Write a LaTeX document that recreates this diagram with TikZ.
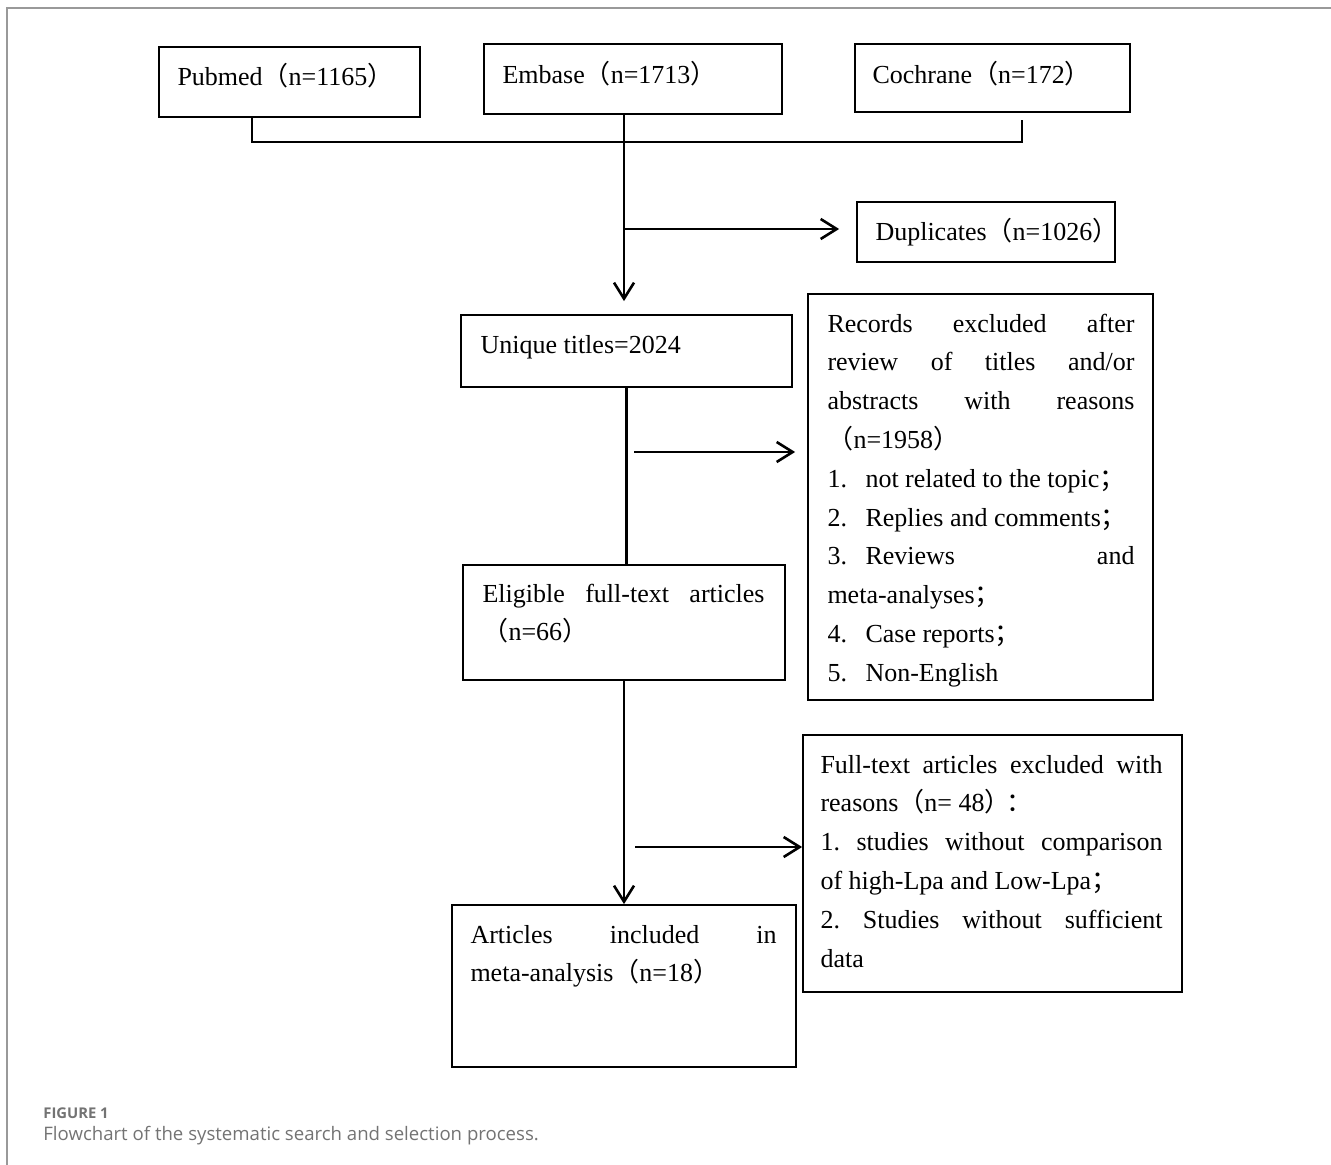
\documentclass[tikz,border=0pt]{standalone}
\usepackage{fontspec}
\setmainfont{Liberation Serif}
\newfontfamily\cjk[Script=CJK,Language=Chinese Simplified]{Noto Sans CJK SC}
\newfontfamily\capfont{Open Sans}
\usetikzlibrary{arrows.meta,fit,positioning}

% full-width punctuation
\newcommand{\fwl}{{\cjk （}}
\newcommand{\fwr}{{\cjk ）}}
\newcommand{\fwsemi}{{\cjk ；}}
\newcommand{\fwcolon}{\kern-0.15em{\cjk ：}}
\newcommand{\itemno}[1]{\makebox[19pt][l]{#1}}

\tikzset{
  flowbox/.style={draw, line width=0.9pt, inner sep=0pt},
  boxtext/.style={anchor=base west, inner sep=0pt, align=justify,
    font=\fontsize{13pt}{19.4pt}\selectfont},
  link/.style={line width=1.3pt},
  arrow/.style={link, -{Straight Barb[length=8pt,width=10pt]}},
  frame/.style={draw=black!40, line width=0.8pt},
  captitle/.style={anchor=base west, inner sep=0pt, text=black!55,
    font=\capfont\bfseries\fontsize{7.4pt}{8pt}\selectfont},
  capline/.style={anchor=base west, inner sep=0pt, text=black!55,
    font=\capfont\fontsize{9.3pt}{11pt}\selectfont}
}

\begin{document}
\begin{tikzpicture}[x=0.5pt, y=-0.5pt]
        \useasboundingbox (0,0) rectangle (1331,1165);
        \draw[frame] (7,1165) -- (7,8) -- (1331,8);

        % boxes
        \node [flowbox, fit={(159,47) (420,117)}] (pubmed) {};
        \node [flowbox, fit={(484,44) (782,114)}] (embase) {};
        \node [flowbox, fit={(855,44) (1130,112)}] (cochrane) {};
        \node [flowbox, fit={(857,202) (1115,262)}] (duplicates) {};
        \node [flowbox, fit={(461,315) (792,387)}] (unique) {};
        \node [flowbox, fit={(808,294) (1153,700)}] (records) {};
        \node [flowbox, fit={(463,565) (785,680)}] (eligible) {};
        \node [flowbox, fit={(803,735) (1182,992)}] (fulltext) {};
        \node [flowbox, fit={(452,905) (796,1067)}] (articles) {};

        % texts
        \node [boxtext] (pubmed-text) at ([shift={(19,39)}]pubmed.north west) {Pubmed\fwl n=1165\fwr};
        \node [boxtext] (embase-text) at ([shift={(19,40)}]embase.north west) {Embase\fwl n=1713\fwr};
        \node [boxtext] (cochrane-text) at ([shift={(18,40)}]cochrane.north west) {Cochrane\fwl n=172\fwr};
        \node [boxtext] (duplicates-text) at ([shift={(19,39)}]duplicates.north west) {Duplicates\fwl n=1026\fwr};
        \node [boxtext] (unique-text) at ([shift={(20,39)}]unique.north west) {Unique titles=2024};
        \node [boxtext, text width=153.5pt] (records-text) at ([shift={(20,39)}]records.north west) {Records excluded after\linebreak
          review of titles and/or\linebreak
          abstracts with reasons\linebreak
          \fwl n=1958\fwr\\
          \itemno{1.}not related to the topic\fwsemi\\
          \itemno{2.}Replies and comments\fwsemi\\
          \itemno{3.}Reviews and\linebreak
          meta-analyses\fwsemi\\
          \itemno{4.}Case reports\fwsemi\\
          \itemno{5.}Non-English};
        \node [boxtext, text width=141pt] (eligible-text) at ([shift={(20,38)}]eligible.north west) {Eligible full-text articles\linebreak
          \fwl n=66\fwr};
        \node [boxtext, text width=171pt] (fulltext-text) at ([shift={(18,39)}]fulltext.north west) {Full-text articles excluded with\linebreak
          reasons\fwl n= 48\fwr\fwcolon\\
          1.\ studies without comparison\linebreak
          of high-Lpa and Low-Lpa\fwsemi\\
          2.\ Studies without sufficient\linebreak
          data};
        \node [boxtext, text width=153pt] (articles-text) at ([shift={(19,39)}]articles.north west) {Articles included in\linebreak
          meta-analysis\fwl n=18\fwr};

        % connectors
        \coordinate (trunk) at (624,0);
        \coordinate (join-l) at (252,142);
        \coordinate (join-r) at (1022,142);
        \coordinate (tick-r) at (1022,120);
        \coordinate (dup-arrow) at (624,229);
        \coordinate (rec-arrow) at (634,452);
        \coordinate (ft-arrow) at (635,847);

        \draw[link] (join-l |- pubmed.south) -- (join-l) -- (join-r) -- (tick-r);
        \draw[arrow, shorten >=6.5pt] (embase.south -| trunk) -- (unique.north -| trunk);
        \draw[arrow, shorten >=8.5pt] (dup-arrow) -- (dup-arrow -| duplicates.west);
        \draw[link] (unique.south) -- (unique.south |- eligible.north);
        \draw[arrow, shorten >=6pt] (rec-arrow) -- (rec-arrow -| records.west);
        \draw[arrow] (eligible.south) -- (articles.north);
        \draw[arrow] (ft-arrow) -- (ft-arrow -| fulltext.west);

        % caption
        \node [captitle] (fig-label) at (43,1118) {FIGURE 1};
        \node [capline] (fig-caption) at (43,1140) {Flowchart of the systematic search and selection process.};
      \end{tikzpicture}
\end{document}
